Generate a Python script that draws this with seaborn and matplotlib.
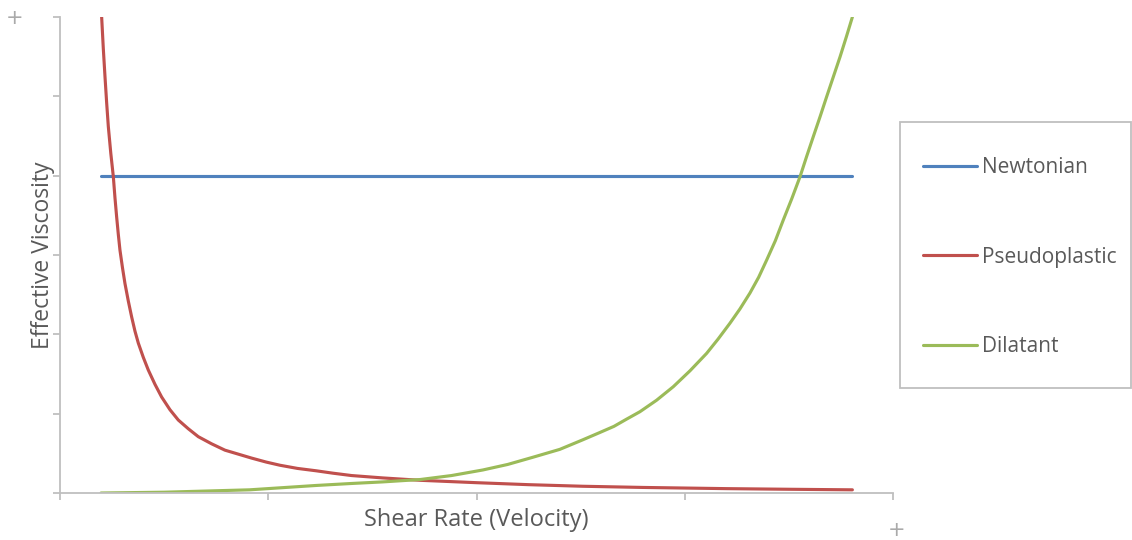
import matplotlib
matplotlib.use("Agg")
import matplotlib.pyplot as plt
from matplotlib.patches import Rectangle
import seaborn as sns
import pandas as pd

# ---- data ----
series_names = ["Newtonian", "Pseudoplastic", "Dilatant"]

newtonian_x = [0.197, 3.805]
newtonian_y = [4.0, 4.0]

pseudo_x = [0.200, 0.208, 0.216, 0.224, 0.232, 0.244, 0.256, 0.264, 0.272, 0.280,
            0.288, 0.300, 0.312, 0.328, 0.344, 0.360, 0.376, 0.400, 0.424, 0.456,
            0.488, 0.528, 0.568, 0.616, 0.664, 0.728, 0.792, 0.856, 0.92, 0.99,
            1.056, 1.14, 1.23, 1.31, 1.4, 1.55, 1.73, 2.0, 2.25, 2.51,
            2.8, 3.2, 3.5, 3.805]
pseudo_y = [6.00, 5.60, 5.25, 4.92, 4.62, 4.28, 3.99, 3.72, 3.48, 3.26,
            3.06, 2.84, 2.64, 2.42, 2.22, 2.04, 1.89, 1.71, 1.55, 1.37,
            1.21, 1.05, 0.92, 0.81, 0.71, 0.62, 0.54, 0.49, 0.44, 0.39,
            0.35, 0.31, 0.28, 0.25, 0.22, 0.19, 0.16, 0.13, 0.105, 0.085,
            0.07, 0.055, 0.047, 0.04]

dilatant_x = [0.197, 0.5, 0.91, 1.23, 1.4, 1.55, 1.73, 1.88, 2.03, 2.15,
              2.27, 2.40, 2.51, 2.59, 2.66, 2.72, 2.785, 2.865, 2.945, 3.025,
              3.105, 3.16, 3.217, 3.265, 3.313, 3.355, 3.394, 3.435, 3.473, 3.514,
              3.554, 3.585, 3.617, 3.65, 3.682, 3.714, 3.746, 3.776, 3.805]
dilatant_y = [0.0, 0.01, 0.04, 0.095, 0.12, 0.14, 0.17, 0.22, 0.29, 0.36,
              0.45, 0.55, 0.67, 0.76, 0.84, 0.93, 1.025, 1.17, 1.34, 1.54,
              1.76, 1.94, 2.14, 2.32, 2.52, 2.72, 2.94, 3.18, 3.44, 3.71,
              3.99, 4.24, 4.49, 4.745, 5.00, 5.25, 5.50, 5.75, 6.0]

x_ticks = [0, 1, 2, 3, 4]
y_ticks = [0, 1, 2, 3, 4, 5, 6]

colors = ["#4F81BD", "#C0504D", "#9BBB59"]

frames = []
for name, xs, ys in [("Newtonian", newtonian_x, newtonian_y),
                     ("Pseudoplastic", pseudo_x, pseudo_y),
                     ("Dilatant", dilatant_x, dilatant_y)]:
    frames.append(pd.DataFrame({"x": xs, "y": ys, "series": name}))
df = pd.concat(frames, ignore_index=True)

sns.set_style("white")
plt.rcParams["font.family"] = ["Open Sans", "DejaVu Sans"]

fig = plt.figure(figsize=(11.32, 5.40), dpi=100)
ax = fig.add_axes([60 / 1132, 47 / 540, (893 - 60) / 1132, (493 - 17) / 540])

sns.lineplot(data=df, x="x", y="y", hue="series", hue_order=series_names,
             palette=colors, sort=False, estimator=None, linewidth=2.25,
             ax=ax, legend=True)
for ln in ax.get_lines():
    ln.set_solid_joinstyle("round")
    ln.set_solid_capstyle("round")

ax.set_xlim(0, 4)
ax.set_ylim(0, 6)
ax.set_xticks(x_ticks)
ax.set_yticks(y_ticks)
ax.set_xticklabels([])
ax.set_yticklabels([])

grey = "#BFBFBF"
for s in ["top", "right"]:
    ax.spines[s].set_visible(False)
for s in ["left", "bottom"]:
    ax.spines[s].set_color(grey)
    ax.spines[s].set_linewidth(1.3)
ax.tick_params(axis="both", which="major", direction="out", length=5,
               width=1.3, color=grey, bottom=True, left=True)

text_col = "#595959"
ax.set_xlabel("Shear Rate (Velocity)", fontsize=17, color=text_col, labelpad=2)
ax.set_ylabel("Effective Viscosity", fontsize=16.5, color=text_col, labelpad=-5)

# legend
handles, labels = ax.get_legend_handles_labels()
leg = ax.legend(handles, labels, loc="upper left",
                bbox_to_anchor=(923 / 1132, 1 - 157 / 540),
                bbox_transform=fig.transFigure, frameon=False,
                fontsize=15, handlelength=2.6, handletextpad=0.24,
                labelspacing=3.3, borderpad=0, borderaxespad=0)
for t in leg.get_texts():
    t.set_color(text_col)
for h in leg.get_lines():
    h.set_linewidth(2.25)

fig.patches.append(Rectangle((900 / 1132, 1 - 388 / 540), (1131 - 900) / 1132,
                             (388 - 122) / 540, transform=fig.transFigure,
                             fill=False, edgecolor="#BFBFBF", linewidth=1.3))

fig.text(15 / 1132, 1 - 18 / 540, "+", ha="center", va="center",
         fontsize=15, color="#AAAAAA", family="DejaVu Sans")
fig.text(897 / 1132, 1 - 530 / 540, "+", ha="center", va="center",
         fontsize=15, color="#AAAAAA", family="DejaVu Sans")

fig.savefig("out.png", dpi=100, facecolor="white")
